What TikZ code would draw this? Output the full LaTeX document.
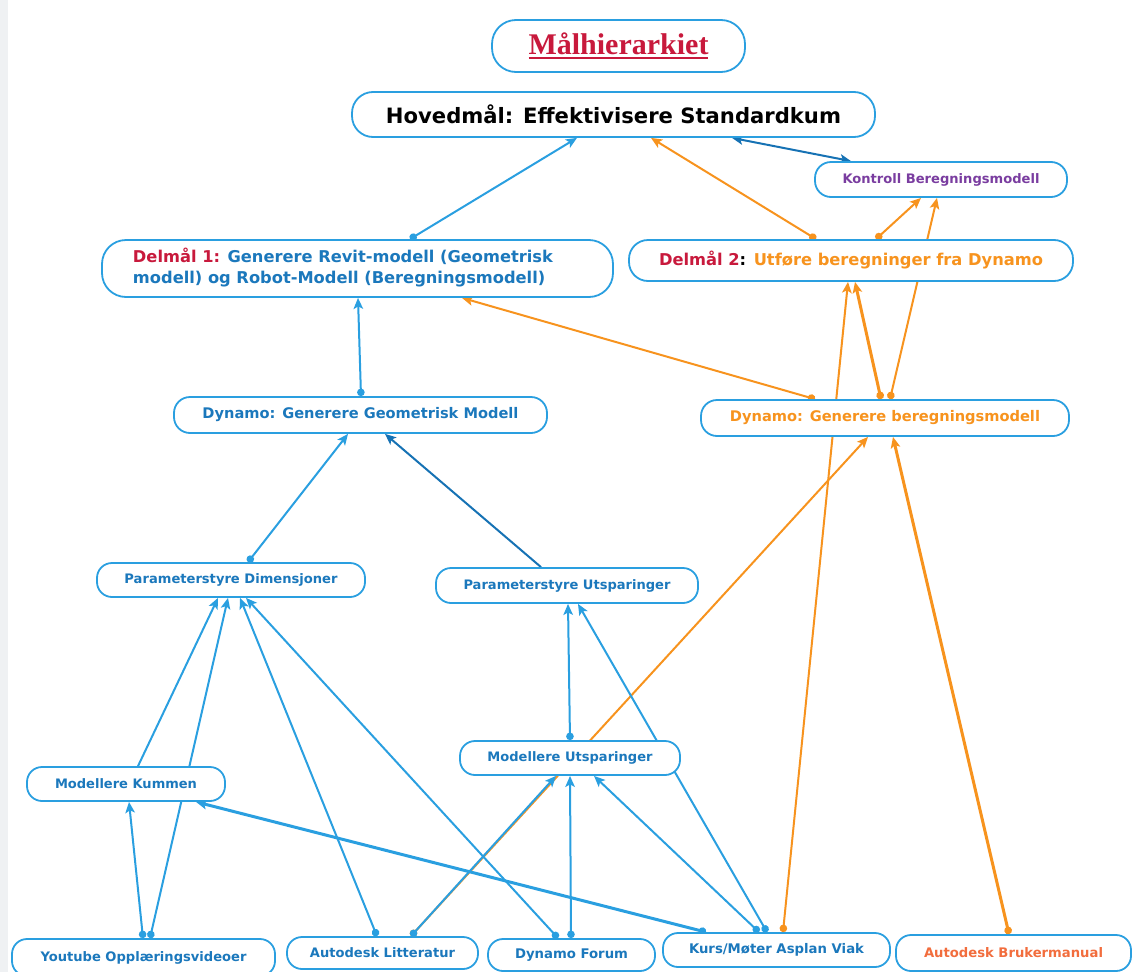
\documentclass[tikz,border=0pt]{standalone}
\usepackage{graphicx}
\usepackage{fontspec}
\setmainfont{DejaVu Sans}
\newfontfamily\titlefont{Liberation Serif}
\usetikzlibrary{arrows.meta,backgrounds}
\definecolor{cLine}{HTML}{2A9FE0}
\definecolor{cDark}{HTML}{1672B4}
\definecolor{cText}{HTML}{1B78BC}
\definecolor{cOrange}{HTML}{F7931E}
\definecolor{cRed}{HTML}{C8193C}
\definecolor{cPurple}{HTML}{7A3DA0}
\definecolor{cOrRed}{HTML}{F26D3D}
\definecolor{cGray}{HTML}{EFF1F3}
\newcommand\fw[2]{\resizebox{#1pt}{!}{#2}}
\tikzset{
  box/.style={draw=cLine, line width=1.8pt, fill=white, inner sep=0pt, rounded corners=#1},
  box/.default=15pt,
  tipA/.style={arrows={Circle[length=7.5pt]-Stealth[length=11pt,width=9.5pt,inset=2.5pt]}},
  tipB/.style={arrows={-Stealth[length=11pt,width=9.5pt,inset=2.5pt]}},
  tipC/.style={arrows={Stealth[length=11pt,width=9.5pt,inset=2.5pt]-Stealth[length=11pt,width=9.5pt,inset=2.5pt]}},
  eblue/.style={draw=cLine, line width=2pt, fill=cLine},
  edark/.style={draw=cDark, line width=2pt, fill=cDark},
  eor/.style={draw=cOrange, line width=2pt, fill=cOrange},
  thick3/.style={line width=3pt},
}
\begin{document}
\begin{tikzpicture}[x=1pt,y=-1pt]
\useasboundingbox (0,0) rectangle (1133,972);
\fill[cGray] (0,0) rectangle (8,972);
% nodes
\node[box=24pt, minimum width=253pt, minimum height=52pt] (title) at (618.5,46)
  {\fontsize{30}{36}\selectfont\titlefont\bfseries\color{cRed}\setbox0\hbox{Målhierarkiet}\rlap{\rule[-5pt]{\wd0}{2pt}}\box0};
\node[box=21pt, minimum width=523pt, minimum height=45pt] (hov) at (613.5,114.5)
  {\fw{455}{\fontsize{20}{24}\selectfont\bfseries Hovedmål: Effektivisere Standardkum}};
\node[box=16pt, minimum width=252pt, minimum height=35pt] (kon) at (941,179.5)
  {\fw{197}{\fontsize{13}{16}\selectfont\bfseries\color{cPurple}Kontroll Beregningsmodell}};
\node[box=24pt, minimum width=511pt, minimum height=57pt] (d1) at (357.5,268.5)
  {\fw{420}{\fontsize{16}{21}\selectfont\bfseries\begin{tabular}{@{}l@{}}\color{cRed}Delmål 1: \color{cText}Generere Revit-modell (Geometrisk\\\color{cText}modell) og Robot-Modell (Beregningsmodell)\end{tabular}}\hspace*{29pt}};
\node[box=19pt, minimum width=444pt, minimum height=41pt] (d2) at (851,260.5)
  {\fw{384}{\fontsize{16}{20}\selectfont\bfseries\color{cRed}Delmål 2\color{black}: \color{cOrange}Utføre beregninger fra Dynamo}};
\node[box=16pt, minimum width=373pt, minimum height=36pt] (dg) at (360.5,415)
  {\fw{316}{\fontsize{14}{17}\selectfont\bfseries\color{cText}Dynamo: Generere Geometrisk Modell}};
\node[box=16pt, minimum width=368pt, minimum height=36pt] (db) at (885,418)
  {\fw{310}{\fontsize{14}{17}\selectfont\bfseries\color{cOrange}Dynamo: Generere beregningsmodell}};
\node[box=15pt, minimum width=268pt, minimum height=34pt] (pd) at (231,580)
  {\fw{213}{\fontsize{13}{16}\selectfont\bfseries\color{cText}Parameterstyre Dimensjoner}};
\node[box=15pt, minimum width=262pt, minimum height=35pt] (pu) at (567,585.5)
  {\fw{207}{\fontsize{13}{16}\selectfont\bfseries\color{cText}Parameterstyre Utsparinger}};
\node[box=15pt, minimum width=220pt, minimum height=34pt] (mu) at (570,758)
  {\fw{165}{\fontsize{13}{16}\selectfont\bfseries\color{cText}Modellere Utsparinger}};
\node[box=15pt, minimum width=198pt, minimum height=34pt] (mk) at (126,784)
  {\fw{142}{\fontsize{13}{16}\selectfont\bfseries\color{cText}Modellere Kummen}};
\node[box=15pt, minimum width=263pt, minimum height=37pt] (yt) at (143.5,957.5)
  {\fw{206}{\fontsize{13}{16}\selectfont\bfseries\color{cText}Youtube Opplæringsvideoer}};
\node[box=15pt, minimum width=191pt, minimum height=32pt] (al) at (382.5,953)
  {\fw{145}{\fontsize{13}{16}\selectfont\bfseries\color{cText}Autodesk Litteratur}};
\node[box=15pt, minimum width=167pt, minimum height=32pt] (df) at (571.5,955)
  {\fw{113}{\fontsize{13}{16}\selectfont\bfseries\color{cText}Dynamo Forum}};
\node[box=15pt, minimum width=227pt, minimum height=34pt] (kurs) at (776.5,950)
  {\fw{175}{\fontsize{13}{16}\selectfont\bfseries\color{cText}Kurs/Møter Asplan Viak}};
\node[box=15pt, minimum width=235pt, minimum height=36pt] (bm) at (1013.5,953)
  {\fw{179}{\fontsize{13}{16}\selectfont\bfseries\color{cOrRed}Autodesk Brukermanual}};
% edges
\begin{pgfonlayer}{background}
\draw[eblue,tipA] (d1.north -| 410,0) -- (hov.south -| 577,0);
\draw[eor,tipA] (d2.north -| 816,0) -- (hov.south -| 651,0);
\draw[edark,tipC] (hov.south -| 732,0) -- (kon.north -| 851,0);
\draw[eor,tipA] (d2.north -| 876,0) -- (kon.south -| 921,0);
\draw[eor,tipA] (db.north -| 890,0) -- (kon.south -| 937,0);
\draw[eor,tipA] (db.north -| 815,0) -- (d1.south -| 462,0);
\draw[eor,tipA,thick3] (db.north -| 881,0) -- (d2.south -| 855,0);
\draw[eor,tipA] (kurs.north -| 783,0) -- (d2.south -| 848,0);
\draw[eor,tipA,thick3] (bm.north -| 1009,0) -- (db.south -| 893,0);
\draw[eor,tipA] (al.north -| 411,0) -- (db.south -| 868,0);
\draw[eblue,tipA] (al.north -| 411,0) -- (mu.south -| 556,0);
\draw[eblue,tipA] (al.north -| 377,0) -- (pd.south -| 240,0);
\draw[eblue,tipA] (yt.north -| 143,0) -- (mk.south -| 129,0);
\draw[eblue,tipA] (yt.north -| 150,0) -- (pd.south -| 228,0);
\draw[eblue,tipB] (mk.north -| 138,0) -- (pd.south -| 218,0);
\draw[eblue,tipA,thick3] (kurs.north -| 706,0) -- (mk.south -| 196,0);
\draw[eblue,tipA] (df.north -| 558,0) -- (pd.south -| 246,0);
\draw[eblue,tipA] (df.north -| 571,0) -- (mu.south -| 570,0);
\draw[eblue,tipA] (kurs.north -| 759,0) -- (mu.south -| 594,0);
\draw[eblue,tipA] (kurs.north -| 767,0) -- (pu.south -| 578,0);
\draw[eblue,tipA] (mu.north -| 570,0) -- (pu.south -| 568,0);
\draw[eblue,tipA] (pd.north -| 248,0) -- (dg.south -| 348,0);
\draw[edark,tipB] (pu.north -| 541,0) -- (dg.south -| 385,0);
\draw[eblue,tipA] (dg.north -| 361,0) -- (d1.south -| 358,0);
\end{pgfonlayer}
\end{tikzpicture}
\end{document}
